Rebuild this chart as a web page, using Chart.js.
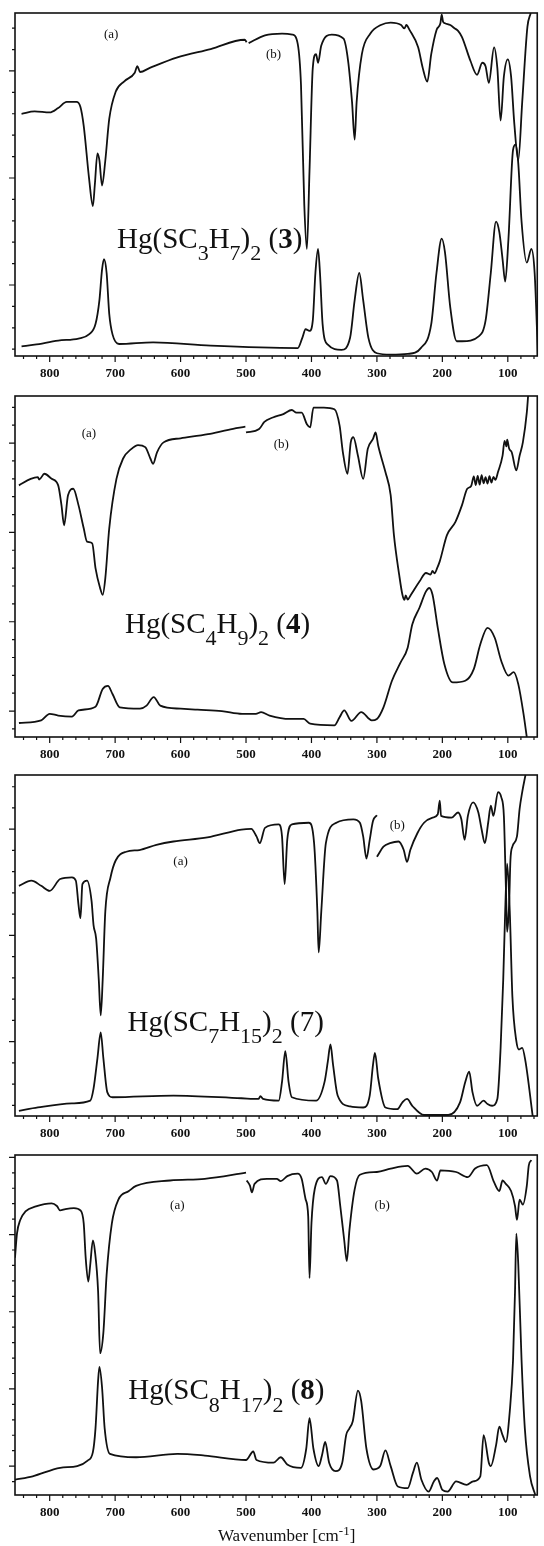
<!DOCTYPE html>
<html>
<head>
<meta charset="utf-8">
<script src="https://cdn.jsdelivr.net/npm/chart.js@4.4.1/dist/chart.umd.min.js"></script>
<style>
  html, body { margin: 0; padding: 0; background: #fff; }
  #wrap { position: relative; width: 544px; height: 1546px; overflow: hidden; }
  canvas { position: absolute; left: 0; }
</style>
</head>
<body>
<div id="wrap"></div>
<script>
// wavenumber axis
const xMajor = [800, 700, 600, 500, 400, 300, 200, 100];
const xMinorStep = 20;

// Hg(SC3H7)2 (3): [wavenumber, intensity]
const irA3 = [[843,70.6],[823,71.3],[800,71.0],[787,72.3],[774,74.1],[759,74.1],[753,72.6],[748,67.1],[740,52.1],[734,43.7],[731,50],[727,59.1],[724,57],[720,49.7],[715,57],[709,69.1],[699,77.1],[686,80.1],[670,82.6],[666,84.5],[662,82.8],[647,84],[606,87],[554,89.5],[502,92.2],[499,91.5]];
const irB3 = [[496,91.2],[471,93.5],[445,94],[429,93.7],[421,91],[416,79],[411,44.2],[407,31.2],[403,54],[398,84],[393,88],[390,85.5],[385,90.5],[369,93.7],[351,92.5],[344,86],[338,74],[334,63.1],[331,74],[323,88],[310,94],[294,96.5],[279,97.2],[263,96.5],[258,95.5],[255,96.5],[250,95],[237,90],[230,84],[223,80],[217,88],[209,95],[203,97],[201,99.5],[199,97.5],[196,97],[188,96.5],[181,95.5],[176,94.8],[170,93],[157,86],[147,82],[139,85.5],[134,84.5],[129,79.6],[121,90],[116,84],[111,68.6],[106,81.5],[100,86.5],[95,81.5],[90,67.6],[84,57.1],[78,74],[70,96],[65,100]];
const raman3 = [[843,2.8],[823,3.3],[787,4.5],[756,5.1],[740,6.3],[730,9.3],[724,16.3],[720,25.2],[717,28.2],[713,24.2],[709,12.3],[704,6.3],[694,3.5],[642,4],[554,3],[421,2.3],[414,5.3],[409,7.8],[403,7.3],[398,10.3],[394,24.2],[390,31.2],[387,24.2],[383,9.3],[375,3.3],[354,1.8],[341,5.3],[334,16.3],[327,24.2],[321,16.3],[313,5.3],[300,0.8],[279,0.4],[253,0.6],[233,2.3],[217,9.3],[209,24.2],[201,34.2],[196,30.2],[188,14.3],[178,4.3],[170,4.3],[144,5.8],[134,10.3],[126,24.2],[118,39.2],[113,36.2],[108,28.2],[104,21.7],[99,34.2],[92,60.1],[88,61.6],[84,56.1],[79,39.2],[71,27.2],[64,31.2],[59,24.2],[54,0.3]];

// Hg(SC4H9)2 (4)
const irA4 = [[847,73.8],[829,75.7],[818,76.2],[816,75.5],[808,77.2],[797,75.7],[787,73.8],[782,68],[778,62.1],[772,70.9],[764,72.8],[756,68],[748,61.2],[743,57.3],[735,56.8],[730,49.5],[723,43.7],[719,41.7],[715,46.6],[709,61.2],[698,75.7],[688,81.6],[675,84.5],[665,85.6],[654,85],[646,81.6],[642,80.1],[636,83.5],[626,86.4],[600,87.6],[558,88.8],[527,90.1],[501,91]];
const irB4 = [[500,89.3],[480,90.3],[472,92.4],[459,93.7],[443,94.7],[430,95.9],[423,95.1],[415,95.1],[407,91.7],[402,90.8],[397,96.6],[381,96.6],[365,96.1],[357,91.3],[352,83.5],[345,77.2],[340,86.4],[336,87.9],[329,82.5],[321,75.7],[314,84.5],[306,87.4],[302,89.3],[298,85.4],[287,77.7],[279,70.9],[274,59.2],[266,47.6],[261,41.7],[258,40.2],[256,41.5],[253,40.3],[248,41.7],[235,45.6],[225,48.1],[218,47.6],[215,48.7],[212,48],[208,49.5],[204,51.5],[193,59.2],[180,63.1],[170,68],[162,72.8],[156,73.6],[152,76.4],[149,73.9],[146,76.6],[143,74],[140,76.8],[137,74.4],[134,76.2],[131,74.3],[128,76.5],[125,74.6],[122,76.3],[119,75.4],[115,77.7],[108,82.5],[105,86.8],[102,85.2],[101,87.2],[98,84.6],[94,83.5],[87,78.2],[82,82.5],[77,86.4],[71,95.1],[69,100]];
const raman4 = [[847,4.1],[813,4.9],[800,6.8],[787,6.3],[766,6],[756,7.8],[730,8.9],[719,14.1],[711,15],[704,12.6],[693,8.7],[662,8.3],[652,9.2],[641,11.7],[631,9.2],[600,8.3],[574,8],[537,7.6],[506,6.8],[485,6.8],[477,7.3],[464,6.3],[433,5.3],[412,5.3],[402,3.9],[365,3.4],[357,5.8],[350,7.8],[339,4.7],[324,7.3],[308,4.9],[300,5.3],[290,8.7],[277,16.5],[264,21.8],[253,26.2],[246,33],[235,37.9],[225,42.7],[220,43.7],[215,41.7],[207,32],[197,21.4],[184,16],[165,16.5],[152,19.9],[142,27.2],[131,32],[120,29.1],[110,22.3],[99,18],[91,19],[84,15.5],[76,6.8],[71,0]];

// Hg(SC7H15)2 (7)
const irA7 = [[847,67.5],[828,69],[813,67.5],[800,66],[784,69.5],[766,70],[760,69],[756,62],[753,58],[750,68],[743,69],[736,63],[733,56],[729,52],[725,40],[722,29.5],[719,40],[715,60],[707,70],[699,75],[683,77.5],[663,78],[637,79.5],[611,80.5],[559,81.7],[507,84],[492,84.2],[484,82],[479,80],[471,84.5],[450,85.5],[445,82],[441,68],[437,81],[430,85.5],[404,86],[396,80],[391,60],[389,48],[385,60],[378,80],[362,86],[336,87],[326,86],[321,82],[316,75.5],[311,81],[306,86.5],[300,88.2]];
const irB7 = [[300,76],[290,79],[280,80],[267,80.5],[259,78],[254,74.5],[249,78],[238,83],[228,86],[215,87.5],[207,88.5],[204,92.5],[202,88],[186,87.5],[176,89],[171,87],[166,81],[161,88],[153,92],[145,89],[140,84],[135,80],[130,86],[126,91],[122,88],[115,95],[110,93.5],[106,88],[104,75],[102,60],[101,54],[98,62],[96,75],[93,79],[86,82],[82,90],[78,95],[73,100]];
const raman7 = [[847,1.5],[818,2.5],[766,3.7],[738,4.5],[733,8],[727,17],[722,24.5],[718,17],[712,7],[704,5.5],[611,6],[507,5.2],[481,5],[478,5.8],[474,5],[450,4.5],[445,10],[440,19],[435,10],[430,5.5],[393,4.5],[380,10],[375,16],[371,21],[367,15],[360,6],[341,2.8],[321,2.5],[311,6],[306,15],[303,18.5],[298,11],[287,2.5],[269,2],[261,4],[254,5],[246,3],[228,0.3],[191,0.3],[173,4],[165,10],[159,13],[154,7],[147,3],[137,4.5],[131,3.5],[124,3],[116,5],[111,20],[107,40],[104,60],[101,74],[97,60],[93,35],[87,22],[83,19.5],[78,20],[73,16],[62,0]];

// Hg(SC8H17)2 (8)
const irA8 = [[853,69.8],[850,76.9],[845,80.9],[837,83.4],[821,84.9],[797,85.8],[789,85],[784,83.7],[776,84.1],[763,84.4],[753,83.7],[748,79.9],[745,69.8],[741,62.8],[738,67.8],[734,74.9],[731,71.9],[726,59.8],[723,41.7],[718,47.7],[713,64.8],[705,79.9],[695,86.9],[679,89.4],[668,90.9],[616,92.5],[563,93],[500,94.8]];
const irB8 = [[499,92.5],[494,91],[491,89],[487,91.5],[468,93],[453,93],[447,92.3],[437,93.8],[421,94.5],[415,93],[409,87],[405,82],[403,63.8],[400,80],[395,90],[384,93.5],[378,91.5],[371,93.8],[361,92.5],[356,85],[350,75],[346,68.8],[342,77.9],[334,89.9],[326,94.2],[300,95],[279,96],[253,96.8],[239,94.5],[226,96],[216,95],[208,92.5],[203,95.5],[179,95],[161,93.5],[150,96],[132,97],[121,92],[113,89.4],[108,92.5],[103,91.5],[95,89.4],[89,85],[86,80.9],[82,86.9],[77,85.4],[71,90.9],[68,96.9],[64,98.5]];
const raman8 = [[853,4.5],[826,5.5],[784,8],[758,8.5],[742,10.1],[734,12.6],[730,19.6],[726,33.7],[724,37.7],[720,31.7],[716,19.6],[708,12.1],[668,11.1],[605,12.1],[563,11.6],[500,10.3],[489,12.8],[484,10.3],[458,9.5],[447,11.1],[437,9],[416,8],[408,13.6],[403,22.6],[397,13.6],[389,8.5],[384,11.6],[379,15.6],[373,9.5],[363,7],[353,9.5],[347,17.6],[342,19.6],[337,21.6],[329,30.7],[324,27.6],[316,13.6],[305,7.5],[295,8.5],[287,13.1],[279,8.5],[268,2.5],[253,2],[245,6.5],[239,9.5],[232,4.5],[221,1],[213,4],[208,5],[200,1.5],[192,1],[179,4],[163,3],[153,4],[142,5.5],[137,17.6],[129,9.5],[126,8.5],[118,14.6],[113,20.1],[108,17.6],[103,15.6],[97,24.6],[92,39.7],[89,59.8],[87,76.9],[84,67.8],[79,39.7],[74,19.6],[66,5.5],[58,0]];

// compound labels: [text, kind] kind 0 normal, 1 subscript, 2 bold, 3 superscript
const name3 = [['Hg(SC',0],['3',1],['H',0],['7',1],[')',0],['2',1],[' (',0],['3',2],[')',0]];
const name4 = [['Hg(SC',0],['4',1],['H',0],['9',1],[')',0],['2',1],[' (',0],['4',2],[')',0]];
const name7 = [['Hg(SC',0],['7',1],['H',0],['15',1],[')',0],['2',1],[' (',0],['7',0],[')',0]];
const name8 = [['Hg(SC',0],['8',1],['H',0],['17',1],[')',0],['2',1],[' (',0],['8',2],[')',0]];
const axisTitle = [['Wavenumber [cm',0],['-1',3],[']',0]];

const SERIF = '"Liberation Serif", "Times New Roman", serif';
Chart.defaults.font.family = SERIF;

const panels = [
  { top: 13, axis: 356, xh: 28, series: [irA3, irB3, raman3], tick: { step: 6.24, major: 20.7 },
    notes: [ { parts: [['(a)',0]], wn: 706, v: 94, size: 13, mid: true },
             { parts: [['(b)',0]], wn: 458, v: 88, size: 13, mid: true },
             { parts: name3, wn: 697, v: 31.5, size: 29 } ] },
  { top: 396, axis: 737, xh: 28, series: [irA4, irB4, raman4], tick: { step: 5.24, major: 7.6 },
    notes: [ { parts: [['(a)',0]], wn: 740, v: 89.3, size: 13, mid: true },
             { parts: [['(b)',0]], wn: 446, v: 86, size: 13, mid: true },
             { parts: name4, wn: 685, v: 30.6, size: 29 } ] },
  { top: 775, axis: 1116, xh: 28, series: [irA7, irB7, raman7], tick: { step: 6.23, major: 21.8 },
    notes: [ { parts: [['(a)',0]], wn: 600, v: 75, size: 13, mid: true },
             { parts: [['(b)',0]], wn: 269, v: 85.5, size: 13, mid: true },
             { parts: name7, wn: 681, v: 25, size: 29 } ] },
  { top: 1155, axis: 1495, xh: 51, series: [irA8, irB8, raman8], tick: { step: 4.54, major: 8.5 },
    notes: [ { parts: [['(a)',0]], wn: 605, v: 85.4, size: 13, mid: true },
             { parts: [['(b)',0]], wn: 292, v: 85.4, size: 13, mid: true },
             { parts: name8, wn: 680, v: 28.1, size: 29 } ],
    title: axisTitle }
];

function fontFor(k, size) {
  const fs = (k === 1 || k === 3) ? Math.round(size * 0.75) : size;
  return (k === 2 ? 'bold ' : '') + fs + 'px ' + SERIF;
}
function richWidth(ctx, parts, size) {
  let w = 0;
  for (const [t, k] of parts) {
    ctx.font = fontFor(k, size);
    w += ctx.measureText(t).width;
  }
  return w;
}
function drawRich(ctx, parts, x, y, size) {
  let cx = x;
  for (const [t, k] of parts) {
    ctx.font = fontFor(k, size);
    const dy = k === 1 ? size * 0.42 : k === 3 ? -size * 0.38 : 0;
    ctx.fillText(t, cx, y + dy);
    cx += ctx.measureText(t).width;
  }
}

const framePlugin = {
  id: 'frame',
  afterDraw(chart) {
    const { ctx, chartArea: a, scales: { x, y } } = chart;
    const p = chart.options.plugins.frame;
    ctx.save();
    ctx.strokeStyle = '#111';
    ctx.lineWidth = 1.6;
    ctx.strokeRect(a.left, a.top, a.right - a.left, a.bottom - a.top);
    ctx.lineWidth = 1.2;
    ctx.beginPath();
    for (const t of x.ticks) {
      const px = x.getPixelForValue(t.value);
      const len = t.value % 100 === 0 ? 6 : 3;
      ctx.moveTo(px, a.bottom);
      ctx.lineTo(px, a.bottom + len);
    }
    for (const t of y.ticks) {
      const py = y.getPixelForValue(t.value);
      const len = t.major ? 6 : 3;
      ctx.moveTo(a.left - len, py);
      ctx.lineTo(a.left, py);
    }
    ctx.stroke();

    ctx.fillStyle = '#111';
    ctx.textAlign = 'left';
    ctx.textBaseline = 'alphabetic';
    for (const n of p.notes) {
      const w = richWidth(ctx, n.parts, n.size);
      let px = x.getPixelForValue(n.wn);
      let py = y.getPixelForValue(n.v);
      if (n.mid) { px -= w / 2; py += n.size * 0.33; }
      drawRich(ctx, n.parts, px, py, n.size);
    }
    if (p.title) {
      const w = richWidth(ctx, p.title, 17);
      const cx = x.getPixelForValue(438);
      drawRich(ctx, p.title, cx - w / 2, a.bottom + 46, 17);
    }
    ctx.restore();
  }
};

function yTicks(tk) {
  const out = [];
  const start = tk.major - tk.step * Math.floor(tk.major / tk.step);
  for (let v = start; v <= 100.5; v += tk.step) {
    const k = Math.round((v - tk.major) / tk.step);
    out.push({ value: v, major: ((k % 5) + 5) % 5 === 0 });
  }
  return out;
}

function xTicks() {
  const out = [];
  for (let v = 840; v >= 60; v -= xMinorStep) out.push({ value: v });
  return out;
}

const wrap = document.getElementById('wrap');
panels.forEach((p) => {
  const cv = document.createElement('canvas');
  const h = (p.axis - p.top) + 6 + p.xh;
  cv.width = 544;
  cv.height = h;
  cv.style.top = (p.top - 6) + 'px';
  wrap.appendChild(cv);

  new Chart(cv, {
    type: 'line',
    data: {
      datasets: p.series.map(s => ({
        data: s.map(([wn, v]) => ({ x: wn, y: v })),
        borderColor: '#111',
        borderWidth: 1.8,
        pointRadius: 0,
        fill: false,
        cubicInterpolationMode: 'monotone'
      }))
    },
    options: {
      responsive: false,
      animation: false,
      events: [],
      layout: { padding: { top: 6, right: 2, left: 0, bottom: 0 } },
      plugins: {
        legend: { display: false },
        tooltip: { enabled: false },
        frame: { notes: p.notes, title: p.title }
      },
      scales: {
        x: {
          type: 'linear', reverse: true, min: 55, max: 853,
          grid: { display: false, drawTicks: false },
          border: { display: false },
          afterBuildTicks: s => { s.ticks = xTicks(); },
          afterFit: s => { s.height = p.xh; },
          ticks: {
            autoSkip: false, maxRotation: 0, padding: 10, color: '#111',
            font: { family: SERIF, size: 13, weight: 'bold' },
            callback: v => xMajor.includes(v) ? String(v) : ''
          }
        },
        y: {
          min: 0, max: 100,
          grid: { display: false, drawTicks: false },
          border: { display: false },
          ticks: { display: false },
          afterBuildTicks: s => { s.ticks = yTicks(p.tick); },
          afterFit: s => { s.width = 15; }
        }
      }
    },
    plugins: [framePlugin]
  });
});
</script>
</body>
</html>
